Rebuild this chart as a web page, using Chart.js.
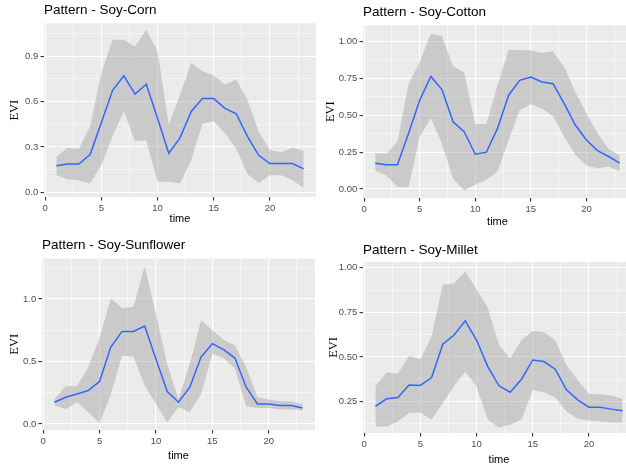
<!DOCTYPE html>
<html>
<head>
<meta charset="utf-8">
<script src="https://cdn.jsdelivr.net/npm/chart.js@4"></script>
<style>
  html, body { margin: 0; padding: 0; background: #ffffff; overflow: hidden; }
  #wrap { position: relative; width: 626px; height: 470px; overflow: hidden; background: #fff; }
  .panel { position: absolute; }
  .panel canvas { display: block; }
</style>
</head>
<body>
<div id="wrap">
  <div class="panel" id="p1"><canvas id="c1"></canvas></div>
  <div class="panel" id="p2"><canvas id="c2"></canvas></div>
  <div class="panel" id="p3"><canvas id="c3"></canvas></div>
  <div class="panel" id="p4"><canvas id="c4"></canvas></div>
</div>
<script>
// ---------- DATA ----------
const time = [1,2,3,4,5,6,7,8,9,10,11,12,13,14,15,16,17,18,19,20,21,22,23];

const xTicks  = [0, 2.5, 5, 7.5, 10, 12.5, 15, 17.5, 20, 22.5];
const xLabels = ['0', '', '5', '', '10', '', '15', '', '20', ''];

// Soy-Corn
const cornMean = [0.176,0.187,0.187,0.25,0.46,0.675,0.77,0.65,0.715,0.49,0.258,0.36,0.535,0.62,0.62,0.555,0.52,0.37,0.245,0.19,0.19,0.19,0.155];
const cornHigh = [0.235,0.295,0.287,0.435,0.79,1.01,1.01,0.965,1.075,0.935,0.447,0.645,0.857,0.80,0.773,0.713,0.747,0.613,0.40,0.28,0.265,0.295,0.275];
const cornLow  = [0.115,0.085,0.08,0.058,0.18,0.37,0.535,0.34,0.345,0.07,0.07,0.058,0.213,0.453,0.47,0.39,0.29,0.12,0.062,0.113,0.113,0.08,0.031];
const cornYTicks  = [0, 0.15, 0.3, 0.45, 0.6, 0.75, 0.9, 1.05];
const cornYLabels = ['0.0', '', '0.3', '', '0.6', '', '0.9', ''];

// Soy-Cotton
const cottonMean = [0.175,0.164,0.164,0.377,0.60,0.762,0.673,0.455,0.388,0.235,0.249,0.41,0.635,0.735,0.758,0.724,0.713,0.578,0.433,0.332,0.26,0.22,0.175];
const cottonHigh = [0.242,0.238,0.32,0.713,0.859,1.05,1.034,0.83,0.79,0.44,0.44,0.70,0.94,0.94,0.937,0.92,0.933,0.825,0.657,0.511,0.377,0.27,0.226];
const cottonLow  = [0.123,0.092,0.013,0.011,0.354,0.478,0.31,0.07,-0.009,0.029,0.063,0.119,0.332,0.534,0.574,0.545,0.493,0.354,0.231,0.159,0.141,0.152,0.119];
const cottonYTicks  = [0, 0.125, 0.25, 0.375, 0.5, 0.625, 0.75, 0.875, 1.0];
const cottonYLabels = ['0.00', '', '0.25', '', '0.50', '', '0.75', '', '1.00'];

// Soy-Sunflower
const sunMean = [0.174,0.214,0.24,0.267,0.34,0.615,0.74,0.74,0.783,0.52,0.26,0.174,0.294,0.535,0.642,0.594,0.527,0.294,0.16,0.16,0.147,0.147,0.128];
const sunHigh = [0.20,0.302,0.302,0.455,0.687,1.003,0.928,0.936,1.262,0.88,0.48,0.20,0.48,0.83,0.75,0.674,0.628,0.455,0.214,0.195,0.182,0.182,0.16];
const sunLow  = [0.147,0.12,0.174,0.094,0.005,0.233,0.548,0.54,0.307,0.16,0.013,0.134,0.094,0.24,0.56,0.527,0.441,0.142,0.128,0.128,0.115,0.115,0.107];
const sunYTicks  = [0, 0.25, 0.5, 0.75, 1.0, 1.25];
const sunYLabels = ['0.0', '', '0.5', '', '1.0', ''];

// Soy-Millet
const milletMean = [0.222,0.265,0.272,0.343,0.34,0.384,0.571,0.623,0.703,0.595,0.446,0.338,0.302,0.375,0.483,0.474,0.431,0.315,0.259,0.218,0.218,0.207,0.198];
const milletHigh = [0.334,0.414,0.405,0.506,0.487,0.614,0.907,0.912,0.981,0.88,0.778,0.567,0.493,0.595,0.646,0.638,0.595,0.455,0.371,0.293,0.291,0.284,0.265];
const milletLow  = [0.11,0.11,0.138,0.185,0.188,0.147,0.241,0.338,0.418,0.334,0.147,0.104,0.119,0.147,0.315,0.302,0.272,0.194,0.153,0.142,0.138,0.132,0.132];
const milletYTicks  = [0.125, 0.25, 0.375, 0.5, 0.625, 0.75, 0.875, 1.0];
const milletYLabels = ['', '0.25', '', '0.50', '', '0.75', '', '1.00'];

const titles = ['Pattern - Soy-Corn', 'Pattern - Soy-Cotton', 'Pattern - Soy-Sunflower', 'Pattern - Soy-Millet'];

// ---------- STYLE / LAYOUT ----------
const SANS = "'Liberation Sans', Arial, Helvetica, sans-serif";
const SERIF = "'Liberation Serif', 'Times New Roman', serif";

const panelBg = {
  id: 'panelBg',
  beforeDraw(chart) {
    const a = chart.chartArea, c = chart.ctx;
    c.save();
    c.fillStyle = '#EBEBEB';
    c.fillRect(a.left, a.top, a.right - a.left, a.bottom - a.top);
    c.restore();
  }
};

function pts(ys) { return time.map((t, i) => ({ x: t, y: ys[i] })); }

function makePanel(id, box, data, yTicks, yLabels, yMin, yMax, title) {
  const div = document.getElementById('p' + id);
  div.style.left = box.left + 'px';
  div.style.top = box.top + 'px';
  const cv = document.getElementById('c' + id);
  cv.width = box.W; cv.height = box.H;
  cv.style.width = box.W + 'px'; cv.style.height = box.H + 'px';

  const gridW = ctx => (ctx.tick && ctx.tick.major) ? 1.1 : 0.55;
  const tickC = ctx => (ctx.tick && ctx.tick.major) ? '#333333' : 'rgba(0,0,0,0)';

  new Chart(cv, {
    type: 'line',
    data: {
      datasets: [
        { data: pts(data.mean), borderColor: '#3366FF', borderWidth: 1.5, pointRadius: 0, fill: false, tension: 0 },
        { data: pts(data.high), borderWidth: 0, borderColor: 'rgba(0,0,0,0)', pointRadius: 0, fill: '+1', backgroundColor: 'rgba(153,153,153,0.4)', tension: 0 },
        { data: pts(data.low), borderWidth: 0, borderColor: 'rgba(0,0,0,0)', pointRadius: 0, fill: false, tension: 0 }
      ]
    },
    options: {
      responsive: false,
      animation: false,
      devicePixelRatio: 1,
      layout: { padding: { left: 0, right: box.pr, top: 0, bottom: 0 } },
      plugins: {
        legend: { display: false },
        tooltip: { enabled: false },
        title: {
          display: true, text: title, align: 'start', fullSize: false,
          color: '#000000', font: { family: SANS, size: 13.5, weight: 'normal', lineHeight: 1.2 },
          padding: { top: box.tpt, bottom: box.tpb }
        }
      },
      scales: {
        x: {
          type: 'linear', min: -0.1, max: 24.1,
          afterBuildTicks: s => { s.ticks = xTicks.map((v, i) => ({ value: v, major: xLabels[i] !== '' })); },
          afterFit: s => { s.height = box.xh; },
          border: { display: false },
          grid: { color: '#FFFFFF', lineWidth: gridW, tickColor: tickC, tickLength: 3.5, tickWidth: 1.1 },
          ticks: {
            autoSkip: false, maxRotation: 0, padding: 1.8,
            color: '#4D4D4D', font: { family: SANS, size: 9.5 },
            callback: (v, i) => xLabels[i]
          },
          title: { display: true, text: 'time', color: '#000000', font: { family: SANS, size: 11, lineHeight: 1.2 }, padding: { top: 0, bottom: box.xtp } }
        },
        y: {
          type: 'linear', min: yMin, max: yMax,
          afterBuildTicks: s => { s.ticks = yTicks.map((v, i) => ({ value: v, major: yLabels[i] !== '' })); },
          afterFit: s => { s.width = box.l; },
          border: { display: false },
          grid: { color: '#FFFFFF', lineWidth: gridW, tickColor: tickC, tickLength: 3.5, tickWidth: 1.1 },
          ticks: {
            autoSkip: false, padding: 2.2,
            color: '#4D4D4D', font: { family: SANS, size: 9.5 },
            callback: (v, i) => yLabels[i]
          },
          title: { display: true, text: 'EVI', color: '#000000', font: { family: SERIF, size: 12.5, lineHeight: 1.2 }, padding: { top: box.ytp, bottom: 0 } }
        }
      }
    },
    plugins: [panelBg]
  });
}

makePanel(1, { left: 0,   top: 0,   W: 320, H: 230, l: 44, pr: 4, tpt: 2.5,  tpb: 4.6, xh: 33, xtp: 4.4, ytp: 7.5 },
  { mean: cornMean, high: cornHigh, low: cornLow }, cornYTicks, cornYLabels, -0.031, 1.118, titles[0]);
makePanel(2, { left: 313, top: 0,   W: 320, H: 230, l: 50, pr: 1, tpt: 4.3,  tpb: 4.8, xh: 32, xtp: 1.2, ytp: 10.5 },
  { mean: cottonMean, high: cottonHigh, low: cottonLow }, cottonYTicks, cottonYLabels, -0.061, 1.108, titles[1]);
makePanel(3, { left: 0,   top: 230, W: 320, H: 240, l: 42, pr: 5, tpt: 7.5,  tpb: 4.9, xh: 40, xtp: 7.4, ytp: 7.5 },
  { mean: sunMean, high: sunHigh, low: sunLow }, sunYTicks, sunYLabels, -0.048, 1.322, titles[2]);
makePanel(4, { left: 313, top: 230, W: 322, H: 240, l: 50, pr: 0, tpt: 12.0, tpb: 3.6, xh: 37, xtp: 3.4, ytp: 12.8 },
  { mean: milletMean, high: milletHigh, low: milletLow }, milletYTicks, milletYLabels, 0.073, 1.034, titles[3]);
</script>
</body>
</html>
